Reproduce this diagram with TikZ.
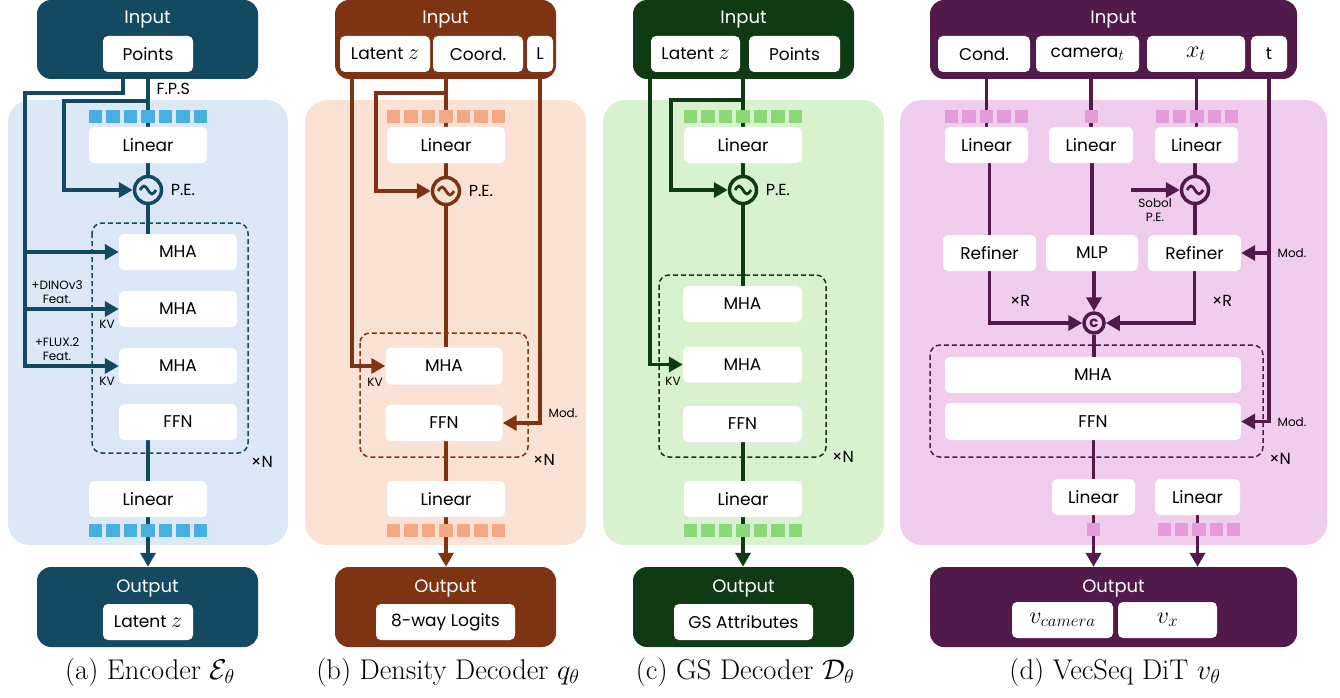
\RequirePackage{fix-cm}
\documentclass[tikz,border=0pt]{standalone}
\usepackage{amsmath}
\usepackage{fontspec}
\usetikzlibrary{arrows.meta,positioning}
\newfontfamily\ppn{Poppins}

\definecolor{acol}{HTML}{134A62}
\definecolor{abg}{HTML}{DCE8F5}
\definecolor{atok}{HTML}{48B0E0}
\definecolor{bcol}{HTML}{7E3412}
\definecolor{bbg}{HTML}{FAE2D4}
\definecolor{btok}{HTML}{F2A985}
\definecolor{ccol}{HTML}{0F3A14}
\definecolor{cbg}{HTML}{D8F2D0}
\definecolor{ctok}{HTML}{8CD878}
\definecolor{dcol}{HTML}{521A4A}
\definecolor{dbg}{HTML}{F0CDEC}
\definecolor{dtok}{HTML}{E59BD9}

\pgfdeclarelayer{back}
\pgfdeclarelayer{wires}
\pgfsetlayers{back,wires,main}

\tikzset{
  wbox/.style={fill=white, rounded corners=5pt, inner sep=0pt, minimum height=36pt, font=\ppn\fontsize{17}{20}\selectfont},
  mbox/.style={wbox, font=\fontsize{24}{24}\selectfont},
  iobox/.style={fill=#1, rounded corners=14pt, inner sep=0pt},
  loopbox/.style={draw=#1, dash pattern=on 5pt off 3pt, line width=1.5pt, rounded corners=10pt},
  wire/.style={draw=#1, line width=3.8pt},
  arr/.style={draw=#1, line width=3.8pt, -{Triangle[length=14pt,width=15pt]}},
  pe/.style={circle, draw=#1, line width=3.5pt, minimum size=27pt, inner sep=0pt},
  tok/.style={fill=#1, minimum size=13.3pt, inner sep=0pt},
  hdr/.style={text=white, font=\ppn\fontsize{18}{20}\selectfont},
  lbl/.style={font=\ppn\fontsize{16}{18}\selectfont},
  sml/.style={font=\ppn\fontsize{12}{14}\selectfont, align=center},
  capt/.style={font=\fontsize{28.5}{30}\selectfont},
}

\newcommand{\wave}[2]{\draw[#1, line width=2.8pt] ([xshift=-8pt]#2.center) sin ++(4,-4) cos ++(4,4) sin ++(4,4) cos ++(4,-4);}
\newcommand{\latz}{Latent {\fontsize{22}{22}\selectfont$z$}}

\begin{document}
\begin{tikzpicture}[x=1pt, y=-1pt]
    \useasboundingbox (0,0) rectangle (1340,698);

    % ---------- (a) encoder
    \begin{pgfonlayer}{back}
        \fill[abg, rounded corners=22pt] (8,100) rectangle (288,545);
    \end{pgfonlayer}
    \node[iobox=acol, minimum width=221pt, minimum height=79pt] (aIn) at (147.5,39.5) {};
    \node[hdr] (aInT) at (147.5,20) {Input};
    \node[wbox, minimum width=90pt] (aPts) at (148,54) {Points};
    \foreach \i in {-3,...,3}
        \node[tok=atok] (aTi\i) at (148+17.5*\i,116.5) {};
    \node[wbox, minimum width=118pt] (aLin) at (148,145) {Linear};
    \node[pe=acol] (aPE) at (148,190) {};
    \wave{acol}{aPE}
    \draw[loopbox=acol] (92,223) rectangle (248,453);
    \node[wbox, minimum width=118pt] (aMHAa) at (178,252) {MHA};
    \node[wbox, minimum width=118pt] (aMHAb) at (178,309) {MHA};
    \node[wbox, minimum width=118pt] (aMHAc) at (178,366) {MHA};
    \node[wbox, minimum width=118pt] (aFFN) at (178,422) {FFN};
    \node[wbox, minimum width=118pt] (aLinO) at (148,499) {Linear};
    \foreach \i in {-3,...,3}
        \node[tok=atok] (aTo\i) at (148+17.5*\i,530.5) {};
    \node[iobox=acol, minimum width=221pt, minimum height=80pt] (aOut) at (147.5,607) {};
    \node[hdr] (aOutT) at (147.5,588) {Output};
    \node[wbox, minimum width=90pt] (aLat) at (148,622) {\latz};
    \node[lbl, anchor=west] (aFps) at (153,89) {F.P.S};
    \node[lbl, anchor=west] (aPEt) at ([xshift=4pt]aPE.east) {P.E.};
    \node[sml] (aDino) at (57,292) {+DINOv3\\Feat.};
    \node[sml] (aKVa) at (107,324) {KV};
    \node[sml] (aFlux) at (57,349) {+FLUX.2\\Feat.};
    \node[sml] (aKVb) at (107,381) {KV};
    \node[lbl] (aN) at (262,462) {×N};
    \node[capt] (aCap) at (150,672) {(a) Encoder $\mathcal{E}_\theta$};
    \coordinate (aFk) at (64,101);
    \coordinate (aKa) at (123,93);
    \coordinate (aKb) at (25,93);

    \begin{pgfonlayer}{wires}
        \draw[wire=acol] (aIn.south -| aLin) -- (aLin.north);
        \draw[arr=acol] (aLin.north |- aFk) -- (aFk) |- (aPE.west);
        \draw[arr=acol] (aIn.south -| aKa) -- (aKa) -- (aKb) |- (aMHAc.west);
        \draw[arr=acol] (aKb |- aMHAa) -- (aMHAa.west);
        \draw[arr=acol] (aKb |- aMHAb) -- (aMHAb.west);
        \draw[wire=acol] (aLin) -- (aPE);
        \draw[wire=acol] (aPE) -- (aPE |- aMHAa.north);
        \draw[wire=acol] (aFFN.south -| aLinO) -- (aLinO);
        \draw[arr=acol] (aLinO) -- (aOut.north -| aLinO);
    \end{pgfonlayer}

    % ---------- (b) density decoder
    \begin{pgfonlayer}{back}
        \fill[bbg, rounded corners=22pt] (305,100) rectangle (586,545);
    \end{pgfonlayer}
    \node[iobox=bcol, minimum width=221pt, minimum height=79pt] (bIn) at (445.5,39.5) {};
    \node[hdr] (bInT) at (445.5,20) {Input};
    \node[wbox, minimum width=90pt] (bLat) at (385,54) {\latz};
    \node[wbox, minimum width=90pt] (bCrd) at (478,54) {Coord.};
    \node[wbox, minimum width=26pt] (bL) at (540,54) {L};
    \foreach \i in {-3,...,3}
        \node[tok=btok] (bTi\i) at (446+17.5*\i,116.5) {};
    \node[wbox, minimum width=118pt] (bLin) at (446,145) {Linear};
    \node[pe=bcol] (bPE) at (446,191) {};
    \wave{bcol}{bPE}
    \draw[loopbox=bcol] (360,333) rectangle (528,457);
    \node[wbox, minimum width=117pt, minimum height=37pt] (bMHA) at (444,366) {MHA};
    \node[wbox, minimum width=117pt] (bFFN) at (444,423) {FFN};
    \node[wbox, minimum width=118pt] (bLinO) at (446,499) {Linear};
    \foreach \i in {-3,...,3}
        \node[tok=btok] (bTo\i) at (446+17.5*\i,530.5) {};
    \node[iobox=bcol, minimum width=221pt, minimum height=80pt] (bOut) at (445.5,607) {};
    \node[hdr] (bOutT) at (445.5,588) {Output};
    \node[wbox, minimum width=139pt] (bLog) at (445.5,622) {8-way Logits};
    \node[lbl, anchor=west] (bPEt) at ([xshift=4pt]bPE.east) {P.E.};
    \node[sml] (bKV) at (375,382) {KV};
    \node[sml] (bMod) at (563,413) {Mod.};
    \node[lbl] (bN) at (544,460) {×N};
    \node[capt] (bCap) at (448,672) {(b) Density Decoder $q_\theta$};
    \coordinate (bFk) at (376,93);
    \coordinate (bKv) at (352,0);

    \begin{pgfonlayer}{wires}
        \draw[wire=bcol] (bIn.south -| bLin) -- (bLin.north);
        \draw[arr=bcol] (bLin.north |- bFk) -- (bFk) |- (bPE.west);
        \draw[arr=bcol] (bIn.south -| bKv) |- (bMHA.west);
        \draw[arr=bcol] (bIn.south -| bL) |- (bFFN.east);
        \draw[wire=bcol] (bLin) -- (bPE);
        \draw[wire=bcol] (bPE) -- (bPE |- bMHA.north);
        \draw[wire=bcol] (bFFN.south -| bLinO) -- (bLinO);
        \draw[arr=bcol] (bLinO) -- (bOut.north -| bLinO);
    \end{pgfonlayer}

    % ---------- (c) GS decoder
    \begin{pgfonlayer}{back}
        \fill[cbg, rounded corners=22pt] (603,100) rectangle (884,545);
    \end{pgfonlayer}
    \node[iobox=ccol, minimum width=221pt, minimum height=79pt] (cIn) at (743.5,39.5) {};
    \node[hdr] (cInT) at (743.5,20) {Input};
    \node[wbox, minimum width=89pt] (cLat) at (695.5,54) {\latz};
    \node[wbox, minimum width=91pt] (cPts) at (794.5,54) {Points};
    \foreach \i in {-3,...,3}
        \node[tok=ctok] (cTi\i) at (743+17.5*\i,116.5) {};
    \node[wbox, minimum width=118pt] (cLin) at (743,145) {Linear};
    \node[pe=ccol] (cPE) at (743,190) {};
    \wave{ccol}{cPE}
    \draw[loopbox=ccol] (659,275) rectangle (826,457);
    \node[wbox, minimum width=119pt] (cMHAa) at (742.5,304) {MHA};
    \node[wbox, minimum width=119pt] (cMHAb) at (742.5,364.5) {MHA};
    \node[wbox, minimum width=119pt] (cFFN) at (742.5,424) {FFN};
    \node[wbox, minimum width=118pt] (cLinO) at (743,499) {Linear};
    \foreach \i in {-3,...,3}
        \node[tok=ctok] (cTo\i) at (743+17.5*\i,530.5) {};
    \node[iobox=ccol, minimum width=221pt, minimum height=80pt] (cOut) at (743.5,607) {};
    \node[hdr] (cOutT) at (743.5,588) {Output};
    \node[wbox, minimum width=139pt] (cGS) at (743.5,622) {GS Attributes};
    \node[lbl, anchor=west] (cPEt) at ([xshift=4pt]cPE.east) {P.E.};
    \node[sml] (cKV) at (673,381) {KV};
    \node[lbl] (cN) at (843,457) {×N};
    \node[capt] (cCap) at (745,672) {(c) GS Decoder $\mathcal{D}_\theta$};
    \coordinate (cFk) at (671,100);
    \coordinate (cKv) at (650,0);

    \begin{pgfonlayer}{wires}
        \draw[wire=ccol] (cIn.south -| cLin) -- (cLin.north);
        \draw[arr=ccol] (cLin.north |- cFk) -- (cFk) |- (cPE.west);
        \draw[arr=ccol] (cIn.south -| cKv) |- (cMHAb.west);
        \draw[wire=ccol] (cLin) -- (cPE);
        \draw[wire=ccol] (cPE) -- (cPE |- cMHAa.north);
        \draw[wire=ccol] (cFFN.south -| cLinO) -- (cLinO);
        \draw[arr=ccol] (cLinO) -- (cOut.north -| cLinO);
    \end{pgfonlayer}

    % ---------- (d) VecSeq DiT
    \begin{pgfonlayer}{back}
        \fill[dbg, rounded corners=22pt] (900,100) rectangle (1327,545);
    \end{pgfonlayer}
    \node[iobox=dcol, minimum width=367pt, minimum height=79pt] (dIn) at (1113.5,39.5) {};
    \node[hdr] (dInT) at (1113.5,20) {Input};
    \node[wbox, minimum width=92pt] (dCnd) at (984,54) {Cond.};
    \node[wbox, minimum width=103pt] (dCam) at (1087.5,54) {camera{\fontsize{22}{22}\selectfont$_t$}};
    \node[mbox, minimum width=98pt] (dX) at (1196,54) {$x_t$};
    \node[wbox, minimum width=36pt] (dT) at (1269,54) {t};
    \foreach \i in {-2,...,2} {
        \node[tok=dtok] (dTa\i) at (986.5+17.4*\i,116.5) {};
        \node[tok=dtok] (dTc\i) at (1197+17.4*\i,116.5) {};
    }
    \node[tok=dtok] (dTb) at (1091.5,116.5) {};
    \node[wbox, minimum width=83pt] (dLinA) at (986.5,145) {Linear};
    \node[wbox, minimum width=84pt] (dLinB) at (1091,145) {Linear};
    \node[wbox, minimum width=83pt] (dLinC) at (1196.5,145) {Linear};
    \node[pe=dcol] (dPE) at (1195,190) {};
    \wave{dcol}{dPE}
    \node[wbox, minimum width=93pt] (dRefA) at (989.5,253) {Refiner};
    \node[wbox, minimum width=92pt] (dMLP) at (1092,253) {MLP};
    \node[wbox, minimum width=93pt] (dRefC) at (1194.5,253) {Refiner};
    \node[circle, draw=dcol, line width=3.5pt, minimum size=20pt, inner sep=0pt, text=dcol,
          font=\ppn\bfseries\fontsize{15}{15}\selectfont] (dCat) at (1094,323) {c};
    \draw[loopbox=dcol] (930,345) rectangle (1263,457);
    \node[wbox, minimum width=296pt] (dMHA) at (1093,375) {MHA};
    \node[wbox, minimum width=296pt, minimum height=37pt] (dFFN) at (1093,421.5) {FFN};
    \node[wbox, minimum width=83pt] (dLinO1) at (1093.5,497) {Linear};
    \node[wbox, minimum width=85pt] (dLinO2) at (1197.5,497) {Linear};
    \node[tok=dtok] (dTo) at (1093.5,529.5) {};
    \foreach \i in {-2,...,2}
        \node[tok=dtok] (dTx\i) at (1199+17.4*\i,529.5) {};
    \node[iobox=dcol, minimum width=367pt, minimum height=80pt] (dOut) at (1113.5,607) {};
    \node[hdr] (dOutT) at (1113.5,588) {Output};
    \node[mbox, minimum width=101pt] (dVc) at (1062.5,620) {$v_{camera}$};
    \node[mbox, minimum width=99pt] (dVx) at (1167.5,620) {$v_x$};
    \node[sml] (dSobT) at (1155,210) {Sobol\\P.E.};
    \node[sml] (dModA) at (1292,253) {Mod.};
    \node[sml] (dModB) at (1292,422) {Mod.};
    \node[lbl] (dRa) at (1020,301) {×R};
    \node[lbl] (dRc) at (1222,301) {×R};
    \node[lbl] (dN) at (1280,459) {×N};
    \node[capt] (dCap) at (1115,672) {(d) VecSeq DiT $v_\theta$};
    \coordinate (dSob) at (1131,190);

    \begin{pgfonlayer}{wires}
        \draw[wire=dcol] (dIn.south -| dLinA) -- (dLinA.north);
        \draw[wire=dcol] (dIn.south -| dLinB) -- (dLinB.north);
        \draw[wire=dcol] (dIn.south -| dLinC) -- (dLinC.north);
        \draw[arr=dcol] (dIn.south -| dT) |- (dFFN.east);
        \draw[arr=dcol] (dT |- dRefC) -- (dRefC.east);
        \draw[arr=dcol] (dSob) -- (dPE.west);
        \draw[wire=dcol] (dLinA.south -| dRefA) -- (dRefA.north);
        \draw[wire=dcol] (dLinB.south -| dMLP) -- (dMLP.north);
        \draw[wire=dcol] (dLinC.south -| dPE) -- (dPE);
        \draw[wire=dcol] (dPE) -- (dPE |- dRefC.north);
        \draw[arr=dcol] (dRefA.south) |- (dCat.west);
        \draw[arr=dcol] (dMLP.south -| dCat) -- (dCat.north);
        \draw[arr=dcol] (dRefC.south) |- (dCat.east);
        \draw[wire=dcol] (dCat) -- (dCat |- dMHA.north);
        \draw[wire=dcol] (dFFN.south -| dLinO1) -- (dLinO1);
        \draw[arr=dcol] (dLinO1) -- (dOut.north -| dLinO1);
        \draw[arr=dcol] (dLinO2) -- (dOut.north -| dLinO2);
    \end{pgfonlayer}
\end{tikzpicture}
\end{document}
